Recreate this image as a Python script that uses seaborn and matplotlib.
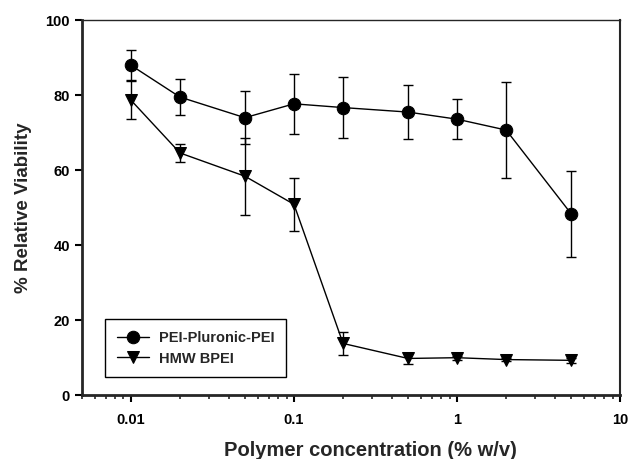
import numpy as np
import pandas as pd
import matplotlib
matplotlib.use('Agg')
import matplotlib.pyplot as plt
import seaborn as sns
from matplotlib.ticker import LogLocator, FixedLocator

# -- data
conc = [0.01, 0.02, 0.05, 0.1, 0.2, 0.5, 1, 2, 5]
ppp_mean = [88.0, 79.5, 74.0, 77.7, 76.7, 75.5, 73.6, 70.7, 48.4]
ppp_err = [4.0, 4.7, 7.0, 8.0, 8.2, 7.3, 5.3, 12.7, 11.5]
bpei_mean = [78.7, 64.6, 58.4, 50.9, 13.8, 9.8, 10.0, 9.5, 9.3]
bpei_err = [5.0, 2.5, 10.3, 7.0, 3.0, 1.5, 0.5, 0.5, 0.7]

df = pd.DataFrame({
    'conc': conc * 2,
    'viability': ppp_mean + bpei_mean,
    'err': ppp_err + bpei_err,
    'polymer': ['PEI-Pluronic-PEI'] * len(conc) + ['HMW BPEI'] * len(conc),
})

sns.set_style('ticks')
plt.rcParams['font.family'] = ['Liberation Sans', 'DejaVu Sans']
plt.rcParams['font.weight'] = 'bold'

fig = plt.figure(figsize=(6.29, 4.59), dpi=100)
ax = fig.add_axes([0.130, 0.139, 0.856, 0.817])

markers = {'PEI-Pluronic-PEI': 'o', 'HMW BPEI': 'v'}
for name, sub in df.groupby('polymer', sort=False):
    ax.errorbar(sub['conc'], sub['viability'], yerr=sub['err'], fmt='none',
                ecolor='black', elinewidth=1.0, capsize=3.5, capthick=1.0, zorder=2)
    sns.lineplot(data=sub, x='conc', y='viability', ax=ax, color='black',
                 marker=markers[name], markersize=9, markeredgecolor='black',
                 linewidth=1.0, label=name, zorder=3)

ax.set_xscale('log')
ax.set_xlim(0.005, 10)
ax.set_ylim(0, 100)
ax.xaxis.set_major_locator(FixedLocator([0.01, 0.1, 1, 10]))
ax.xaxis.set_minor_locator(LogLocator(base=10, subs=np.arange(2, 10)))
ax.set_xticklabels(['0.01', '0.1', '1', '10'])
ax.set_yticks([0, 20, 40, 60, 80, 100])

ax.tick_params(axis='both', which='major', direction='out', length=5, width=1.5,
               labelsize=10.5, colors='black')
ax.tick_params(axis='x', which='minor', direction='out', length=3, width=1.2)
ax.tick_params(axis='x', pad=8)
for lab in ax.get_xticklabels() + ax.get_yticklabels():
    lab.set_fontweight('bold')

ax.spines['left'].set_linewidth(2.0)
ax.spines['bottom'].set_linewidth(2.0)
ax.spines['top'].set_linewidth(1.0)
ax.spines['right'].set_linewidth(1.5)

ax.set_xlabel('Polymer concentration (% w/v)', fontsize=14.5, fontweight='bold', labelpad=10)
ax.xaxis.label.set_x(0.537)
ax.set_ylabel('% Relative Viability', fontsize=13.5, fontweight='bold', labelpad=10)

leg = ax.legend(loc='lower left', bbox_to_anchor=(0.043, 0.048), borderaxespad=0,
                frameon=True, fancybox=False, edgecolor='black', framealpha=1,
                fontsize=10.5, borderpad=0.8, handlelength=2.2, handletextpad=0.7,
                labelspacing=0.45)
leg.get_frame().set_linewidth(1.0)
for t in leg.get_texts():
    t.set_fontweight('bold')

fig.savefig('out.png', dpi=100)
